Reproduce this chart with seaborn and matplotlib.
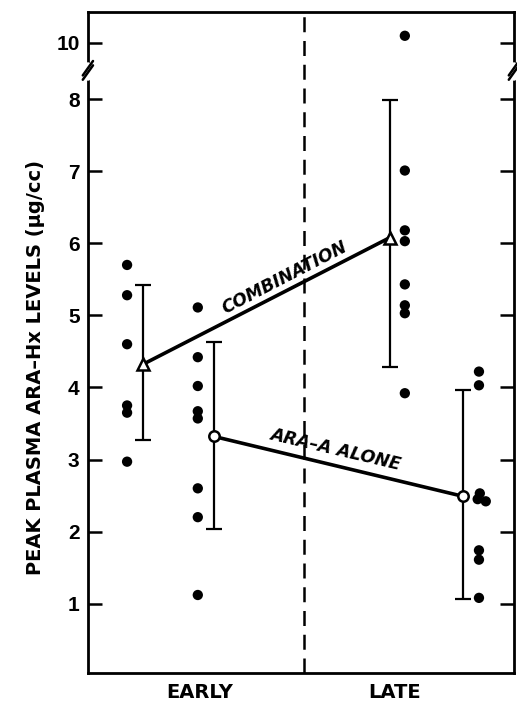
import matplotlib
matplotlib.use("Agg")
import matplotlib.pyplot as plt
import numpy as np
import pandas as pd
import seaborn as sns

# individual patient values (ug/cc)
early_combination = [5.70, 5.28, 4.60, 3.75, 3.65, 2.97]
early_ara_a = [5.11, 4.42, 4.02, 3.67, 3.57, 2.60, 2.20, 1.12]
late_combination = [10.1, 7.01, 6.18, 6.03, 5.43, 5.14, 5.03, 3.92]
late_ara_a = [4.22, 4.03, 2.53, 2.45, 2.42, 1.74, 1.61, 1.08]

# group means with error bar limits (early, late)
combination_mean = [4.32, 6.08]
combination_hi = [5.42, 7.99]
combination_lo = [3.27, 4.28]
ara_a_mean = [3.32, 2.49]
ara_a_hi = [4.63, 3.97]
ara_a_lo = [2.04, 1.06]

y_ticks = [1, 2, 3, 4, 5, 6, 7, 8, 10]
periods = ["EARLY", "LATE"]

# layout: x positions of bars / dot columns on a 0..10 axis
BAR_X = {"comb": [1.29, 7.09], "ara": [2.96, 8.80]}
DOT_X = {"comb": [0.92, 7.44], "ara": [2.58, 9.18]}
late_ara_nudge = [0, 0, 0.02, -0.03, 0.16, 0, 0, 0]
BREAK_AT = 8.78  # where "10" sits on the broken axis


def to_axis(v):
    v = np.asarray(v, dtype=float)
    return np.where(v > 9, v - 10 + BREAK_AT, v)


dots = pd.concat([
    pd.DataFrame({"x": DOT_X["comb"][0], "y": early_combination}),
    pd.DataFrame({"x": DOT_X["ara"][0], "y": early_ara_a}),
    pd.DataFrame({"x": DOT_X["comb"][1], "y": late_combination}),
    pd.DataFrame({"x": np.add(DOT_X["ara"][1], late_ara_nudge), "y": late_ara_a}),
], ignore_index=True)
dots["y_ax"] = to_axis(dots["y"])

means = pd.DataFrame({
    "series": ["comb", "comb", "ara", "ara"],
    "x": BAR_X["comb"] + BAR_X["ara"],
    "y": combination_mean + ara_a_mean,
    "hi": combination_hi + ara_a_hi,
    "lo": combination_lo + ara_a_lo,
})

sns.set_style("ticks")
plt.rcParams["font.family"] = ["DejaVu Sans"]
plt.rcParams["font.weight"] = "bold"
for key in ["text.color", "axes.labelcolor", "xtick.color", "ytick.color"]:
    plt.rcParams[key] = "black"

fig = plt.figure(figsize=(5.17, 7.06), dpi=100)
ax = fig.add_axes([0.170, 0.047, 0.824, 0.936])

# error bars
ax.errorbar(means["x"], means["y"],
            yerr=[means["y"] - means["lo"], means["hi"] - means["y"]],
            fmt="none", ecolor="black", elinewidth=1.6, capsize=6, capthick=1.6, zorder=3)

# connecting lines
sns.lineplot(data=means, x="x", y="y", units="series", estimator=None, sort=False,
             color="black", linewidth=2.6, ax=ax, legend=False, zorder=4)

# individual dots
sns.scatterplot(data=dots, x="x", y="y_ax", color="black", s=55, edgecolor="none",
                ax=ax, legend=False, zorder=5)

# open mean markers
comb = means[means["series"] == "comb"]
ara = means[means["series"] == "ara"]
ax.plot(comb["x"], comb["y"], linestyle="none", marker="^", markersize=9,
        markerfacecolor="white", markeredgecolor="black", markeredgewidth=1.8, zorder=6)
ax.plot(ara["x"], ara["y"], linestyle="none", marker="o", markersize=7.5,
        markerfacecolor="white", markeredgecolor="black", markeredgewidth=1.8, zorder=6)

# divider between early and late
ax.axvline(5.07, color="black", linestyle=(0, (6, 3.5)), linewidth=1.8, zorder=2)

ax.text(4.62, 5.52, "COMBINATION", rotation=27.4, rotation_mode="anchor",
        ha="center", va="center", fontsize=12.5, fontweight="heavy", style="italic")
ax.text(5.82, 3.14, "ARA\u2013A ALONE", rotation=-13.3, rotation_mode="anchor",
        ha="center", va="center", fontsize=12.5, fontweight="heavy", style="italic")

ax.set_xlim(0, 10)
ax.set_ylim(0.04, 9.21)
ax.set_yticks(to_axis(y_ticks))
ax.set_yticklabels([str(t) for t in y_ticks], fontsize=15, fontweight="bold",
                   family=["Liberation Sans"])
ax.set_xticks([2.63, 7.2])
ax.set_xticklabels(periods, fontsize=14, fontweight="bold")
ax.tick_params(axis="x", length=0, pad=7)
ax.tick_params(axis="y", direction="in", length=10, width=1.8, right=True, pad=6)
ax.set_xlabel("")
ax.set_ylabel("PEAK PLASMA ARA\u2013Hx LEVELS (\u00b5g/cc)", fontsize=14,
              fontweight="bold")
ax.yaxis.set_label_coords(-0.10, 0.462)
for side in ["left", "right", "top", "bottom"]:
    ax.spines[side].set_linewidth(2)
    ax.spines[side].set_color("black")

# axis break marks
ytrans = ax.get_yaxis_transform()
for xs in (0, 1):
    ax.plot([xs, xs], [8.30, 8.48], transform=ytrans, color="white",
            linewidth=4, zorder=7, clip_on=False)
    for dy in (0.0, 0.06):
        ax.plot([xs - 0.012, xs + 0.012], [8.27 + dy, 8.47 + dy], transform=ytrans,
                color="black", linewidth=1.8, zorder=8, clip_on=False)

fig.savefig("out.png", dpi=100)
